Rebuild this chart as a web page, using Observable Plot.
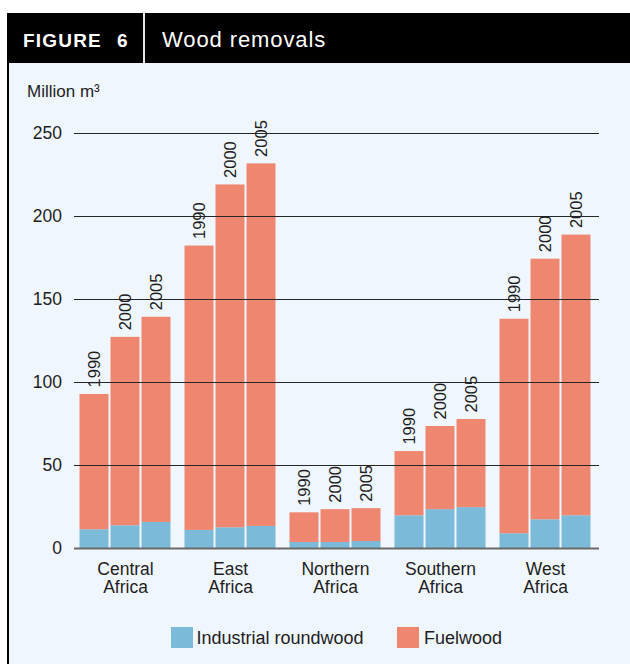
<!DOCTYPE html>
<html>
<head>
<meta charset="utf-8">
<script src="https://cdn.jsdelivr.net/npm/d3@7"></script>
<script src="https://cdn.jsdelivr.net/npm/@observablehq/plot@0.6"></script>
<style>
  html, body { margin: 0; padding: 0; background: #ffffff; }
  body { width: 630px; height: 664px; position: relative; overflow: hidden;
         font-family: "Liberation Sans", Arial, Helvetica, sans-serif; color: #1e1e1e; }
  .abs { position: absolute; white-space: nowrap; line-height: 1; }
  #panel { left: 7px; top: 13px; width: 623px; height: 651px; background: #f0f6fd; }
  #edge { left: 7px; top: 13px; width: 2px; height: 651px; background: #000; }
  #header { left: 7px; top: 13px; width: 623px; height: 50px; background: #000; }
  #divider { left: 143px; top: 13px; width: 2px; height: 50px; background: #e8e8e8; }
  .fig { color: #fff; font-weight: bold; font-size: 19px; letter-spacing: 1.2px; top: 31px; }
  #title { color: #fff; font-size: 22px; letter-spacing: 0.9px; left: 162px; top: 28.7px; }
  #unit { left: 27px; top: 82.5px; font-size: 17px; }
  #chart { left: 9px; top: 63px; }
  .swatch { width: 22px; height: 21px; top: 627px; }
  .legtext { font-size: 18px; top: 628.8px; }
</style>
</head>
<body>
<div id="panel" class="abs"></div>
<div id="edge" class="abs"></div>
<div id="header" class="abs"></div>
<div id="divider" class="abs"></div>
<div class="abs fig" style="left:23px">FIGURE</div>
<div class="abs fig" style="left:117px">6</div>
<div id="title" class="abs">Wood removals</div>
<div id="unit" class="abs">Million m³</div>
<div id="chart" class="abs"></div>
<div id="legend"></div>
<script>
// Regions, years and the two kinds of removals (million m³)
const regions = ["Central Africa", "East Africa", "Northern Africa", "Southern Africa", "West Africa"];
const regionLabels = ["Central\nAfrica", "East\nAfrica", "Northern\nAfrica", "Southern\nAfrica", "West\nAfrica"];
const years = [1990, 2000, 2005];
const types = ["Industrial roundwood", "Fuelwood"];
const typeColors = ["#7bbad8", "#ee8670"];

// One row per region, one value per year
const industrialRoundwood = [
  [11.3, 13.7, 15.7],
  [10.9, 12.5, 13.3],
  [3.6, 3.6, 4.2],
  [19.7, 23.4, 24.6],
  [8.9, 17.3, 19.7]
];
const fuelwood = [
  [81.5, 113.5, 123.6],
  [171.3, 206.5, 218.4],
  [17.9, 19.8, 19.8],
  [38.7, 50.1, 53.1],
  [129.2, 157.0, 169.1]
];

const yTicks = [0, 50, 100, 150, 200, 250];
const gridLines = [50, 100, 150, 200, 250];

// Long-format rows for stacking; industrial first so it sits at the bottom
const rows = [];
const totals = [];
regions.forEach((region, i) => {
  years.forEach((year, j) => {
    rows.push({region, year, type: types[0], value: industrialRoundwood[i][j]});
    rows.push({region, year, type: types[1], value: fuelwood[i][j]});
    totals.push({region, year, total: industrialRoundwood[i][j] + fuelwood[i][j]});
  });
});
const labelRows = regions.map((region, i) => ({region, label: regionLabels[i]}));

// Rules are drawn in every facet and stretched across the gaps between them
const stretchLeft = -5;
const stretchRight = -8;

const chart = Plot.plot({
  width: 621,
  height: 545,
  marginLeft: 63.5,
  marginRight: 32.5,
  marginTop: 70,
  marginBottom: 60,
  style: {
    background: "transparent",
    fontFamily: "Liberation Sans, Arial, Helvetica, sans-serif",
    fontSize: "17.5px",
    color: "#1e1e1e"
  },
  fx: {domain: regions, axis: null, paddingInner: 0.124, paddingOuter: 0.062},
  x: {domain: years, axis: null, paddingInner: 0.08, paddingOuter: 0},
  y: {domain: [0, 250], ticks: yTicks, tickSize: 0, tickPadding: 17.5, label: null},
  color: {domain: types, range: typeColors},
  marks: [
    Plot.barY(rows, {fx: "region", x: "year", y: "value", fill: "type"}),
    Plot.ruleY(gridLines, {stroke: "#262626", strokeWidth: 1, insetLeft: stretchLeft, insetRight: stretchRight}),
    Plot.ruleY([0], {stroke: "#6a6a6a", strokeWidth: 2.2, insetLeft: stretchLeft, insetRight: stretchRight}),
    Plot.text(totals, {
      fx: "region", x: "year", y: "total",
      text: d => String(d.year),
      rotate: -90, textAnchor: "start", dy: -7, fontSize: 16.5
    }),
    Plot.text(labelRows, {
      fx: "region", text: "label",
      frameAnchor: "bottom", lineAnchor: "top", dy: 13.3, lineHeight: 1.04
    })
  ]
});
document.getElementById("chart").appendChild(chart);

// Legend below the chart
const legend = document.getElementById("legend");
const legendItems = [
  {label: types[0], color: typeColors[0], swatchX: 171, textX: 196.5},
  {label: types[1], color: typeColors[1], swatchX: 397, textX: 424}
];
legendItems.forEach(item => {
  const sw = document.createElement("div");
  sw.className = "abs swatch";
  sw.style.left = item.swatchX + "px";
  sw.style.background = item.color;
  legend.appendChild(sw);
  const tx = document.createElement("div");
  tx.className = "abs legtext";
  tx.style.left = item.textX + "px";
  tx.textContent = item.label;
  legend.appendChild(tx);
});
</script>
</body>
</html>
